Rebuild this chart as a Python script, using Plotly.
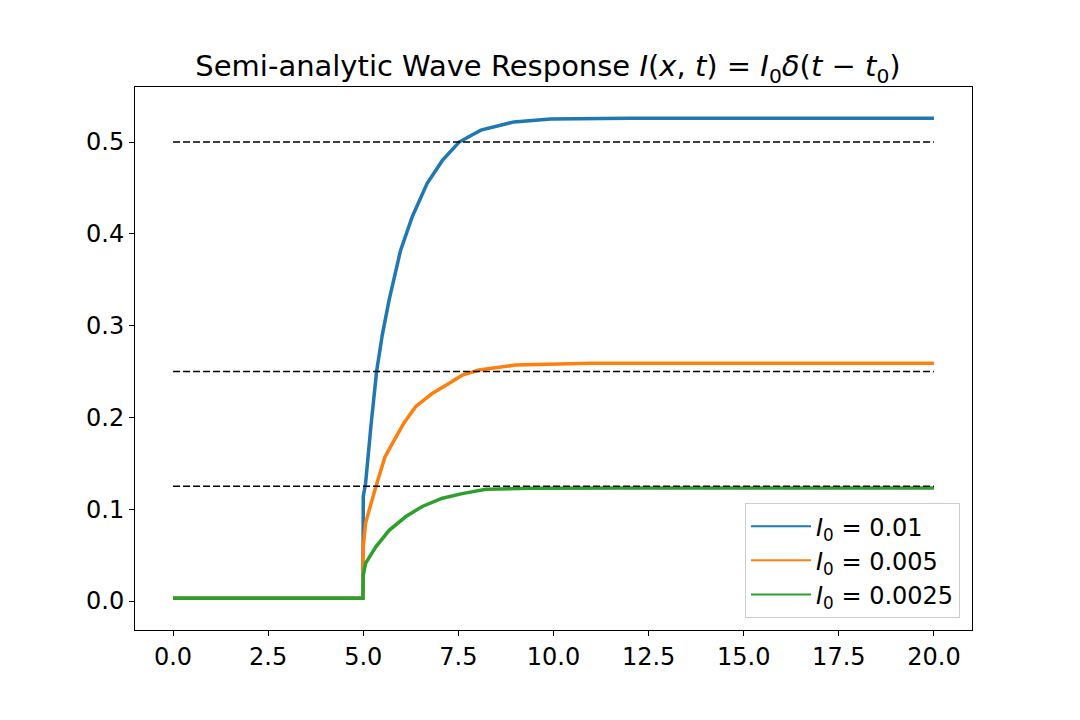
import plotly.graph_objects as go

# values
t_blue = [0, 4.99, 5.0, 5.06, 5.2, 5.35, 5.5, 5.68, 5.98, 6.29, 6.68, 7.08, 7.52, 8.09, 8.96, 9.93, 12, 15, 20]
y_blue = [0.003, 0.003, 0.114, 0.128, 0.19, 0.25, 0.29, 0.328, 0.382, 0.419, 0.455, 0.480, 0.500, 0.513, 0.522, 0.525, 0.526, 0.526, 0.526]

t_orange = [0, 4.99, 5.0, 5.06, 5.33, 5.57, 5.81, 6.07, 6.38, 6.81, 7.25, 7.6, 8.04, 9.0, 11, 15, 20]
y_orange = [0.003, 0.003, 0.059, 0.085, 0.1245, 0.157, 0.175, 0.194, 0.212, 0.226, 0.237, 0.246, 0.2516, 0.257, 0.259, 0.259, 0.259]

t_green = [0, 4.99, 5.0, 5.06, 5.33, 5.68, 6.12, 6.55, 7.08, 7.6, 8.22, 9.44, 12, 15, 20]
y_green = [0.003, 0.003, 0.028, 0.041, 0.059, 0.077, 0.092, 0.103, 0.112, 0.117, 0.1217, 0.1228, 0.123, 0.123, 0.123]

targets = [0.5, 0.25, 0.125]
t_span = [0, 20]

names = ["<i>I</i><sub>0</sub> = 0.01", "<i>I</i><sub>0</sub> = 0.005", "<i>I</i><sub>0</sub> = 0.0025"]
colors = ["#1f77b4", "#ff7f0e", "#2ca02c"]

fig = go.Figure()

for i, (t, y) in enumerate([(t_blue, y_blue), (t_orange, y_orange), (t_green, y_green)]):
    fig.add_trace(go.Scatter(x=t, y=y, mode="lines", showlegend=False,
                             line=dict(color=colors[i], width=3.5)))

for level in targets:
    fig.add_trace(go.Scatter(x=t_span, y=[level, level], mode="lines", showlegend=False,
                             line=dict(color="black", width=1.5, dash="7px,3px")))

# thin legend samples, like matplotlib's
for i in range(3):
    fig.add_trace(go.Scatter(x=[None], y=[None], mode="lines", name=names[i],
                             line=dict(color=colors[i], width=2)))

axis_style = dict(showline=True, linecolor="black", linewidth=1, mirror=True,
                  ticks="outside", ticklen=5, tickcolor="black", showgrid=False,
                  zeroline=False, tickfont=dict(size=24, color="black"))

fig.update_xaxes(range=[-1, 21], tickvals=[0, 2.5, 5, 7.5, 10, 12.5, 15, 17.5, 20],
                 tickformat=".1f", **axis_style)
fig.update_yaxes(range=[-0.0316, 0.56], tickvals=[0, 0.1, 0.2, 0.3, 0.4, 0.5],
                 tickformat=".1f", **axis_style)

fig.update_layout(
    width=1080, height=720,
    margin=dict(l=127, r=116, t=79, b=98),
    plot_bgcolor="white", paper_bgcolor="white",
    font=dict(family="DejaVu Sans", color="black"),
    title=dict(text="Semi-analytic Wave Response <i>I</i>(<i>x</i>, <i>t</i>) = <i>I</i><sub>0</sub><i>δ</i>(<i>t</i> − <i>t</i><sub>0</sub>)",
               x=0.5, xanchor="center", y=0.919, yanchor="middle", font=dict(size=29)),
    legend=dict(x=0.9857, y=0.022, xanchor="right", yanchor="bottom",
                bgcolor="rgba(255,255,255,0.8)", bordercolor="#cccccc", borderwidth=1,
                font=dict(size=24), itemwidth=60),
)

fig.write_html("out.html")
